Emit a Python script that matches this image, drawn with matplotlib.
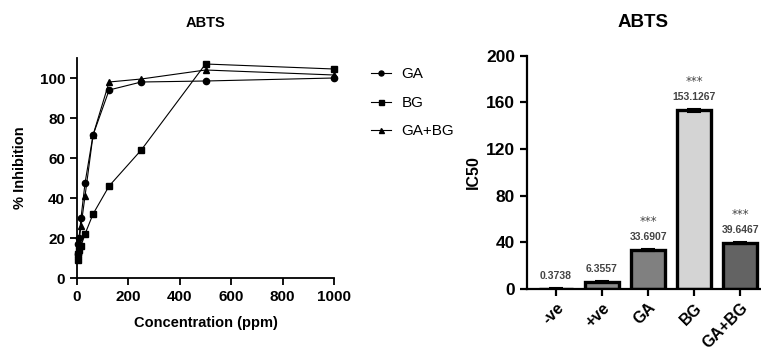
import matplotlib
matplotlib.use("Agg")
import matplotlib.pyplot as plt
import numpy as np

plt.rcParams['font.family'] = ['Liberation Sans', 'DejaVu Sans']

# Left chart data
conc = [1.95, 3.9, 7.8, 15.6, 31.25, 62.5, 125, 250, 500, 1000]
ga = [12, 17, 20, 30, 47.5, 71.5, 94, 98, 98.5, 100]
bg = [9, 12, 14, 16, 22, 32, 46, 64, 107, 104.5]
gabg = [11, 14, 18, 26, 41, 71.5, 98, 99.5, 104, 101.5]

# Right chart data
groups = ['-ve', '+ve', 'GA', 'BG', 'GA+BG']
ic50 = [0.3738, 6.3557, 33.6907, 153.1267, 39.6467]
ic50_err = [0.2, 0.6, 1.0, 1.0, 0.8]
ic50_labels = ['0.3738', '6.3557', '33.6907', '153.1267', '39.6467']
sig = ['', '', '***', '***', '***']
bar_colors = ['#ffffff', '#8a8a8a', '#808080', '#d4d4d4', '#636363']

fig = plt.figure(figsize=(7.61, 3.52), dpi=100)

# ---- Left line chart
ax1 = fig.add_axes([77/761, (352-278)/352, 257/761, 220/352])
ax1.plot(conc, ga, color='black', lw=0.8, marker='o', ms=4.5, label='GA', clip_on=False)
ax1.plot(conc, bg, color='black', lw=0.8, marker='s', ms=4.5, label='BG', clip_on=False)
ax1.plot(conc, gabg, color='black', lw=0.8, marker='^', ms=4.5, label='GA+BG', clip_on=False)
ax1.set_xlim(0, 1000)
ax1.set_ylim(0, 110)
ax1.set_xticks([0, 200, 400, 600, 800, 1000])
ax1.set_yticks([0, 20, 40, 60, 80, 100])
for s in ['top', 'right']:
    ax1.spines[s].set_visible(False)
for s in ['left', 'bottom']:
    ax1.spines[s].set_linewidth(1.3)
ax1.tick_params(width=1.3, length=5, labelsize=11)
for lbl in ax1.get_xticklabels() + ax1.get_yticklabels():
    lbl.set_fontweight('bold')
ax1.set_xlabel('Concentration (ppm)', fontsize=10.5, fontweight='bold', labelpad=9)
ax1.set_ylabel('% Inhibition', fontsize=10.5, fontweight='bold', labelpad=9)
ax1.set_title('ABTS', fontsize=10.5, fontweight='bold', pad=22)
leg = ax1.legend(loc='upper left', bbox_to_anchor=(1.09, 1.02), frameon=False, fontsize=11,
                 handlelength=1.3, labelspacing=0.95, handletextpad=0.7, markerscale=0.8)

# ---- Right bar chart
ax2 = fig.add_axes([527/761, (352-289)/352, 233/761, 233.3/352])
x = np.arange(len(groups))
ax2.bar(x, ic50, width=0.75, color=bar_colors, edgecolor='black', linewidth=2.4,
        yerr=ic50_err, error_kw=dict(ecolor='black', elinewidth=1.5, capsize=5, capthick=1.5))
ax2.set_xlim(-0.63, 4.43)
ax2.set_ylim(0, 200)
ax2.set_yticks([0, 40, 80, 120, 160, 200])
ax2.set_xticks(x)
ax2.set_xticklabels(groups, rotation=45, ha='right', rotation_mode='anchor', fontsize=11.5, fontweight='bold')
for s in ['top', 'right']:
    ax2.spines[s].set_visible(False)
for s in ['left', 'bottom']:
    ax2.spines[s].set_linewidth(1.6)
ax2.tick_params(axis='y', width=1.6, length=5, labelsize=12.5)
ax2.tick_params(axis='x', width=1.6, length=5, pad=3)
for lbl in ax2.get_yticklabels():
    lbl.set_fontweight('bold')
ax2.set_ylabel('IC50', fontsize=11.5, fontweight='bold', labelpad=4)
ax2.set_title('ABTS', fontsize=13.5, fontweight='bold', pad=21)
for xi, v, e, t, s in zip(x, ic50, ic50_err, ic50_labels, sig):
    top = max(v + e, 0)
    ax2.annotate(t, (xi, top), xytext=(0, 5), textcoords='offset points', ha='center', va='bottom',
                 fontsize=7.5, fontweight='bold', color='#444444')
    if s:
        ax2.annotate(s, (xi, top), xytext=(0, 15), textcoords='offset points', ha='center', va='bottom',
                     fontsize=8.5, color='#444444', family=['DejaVu Sans'])

fig.savefig('out.png', dpi=100)
